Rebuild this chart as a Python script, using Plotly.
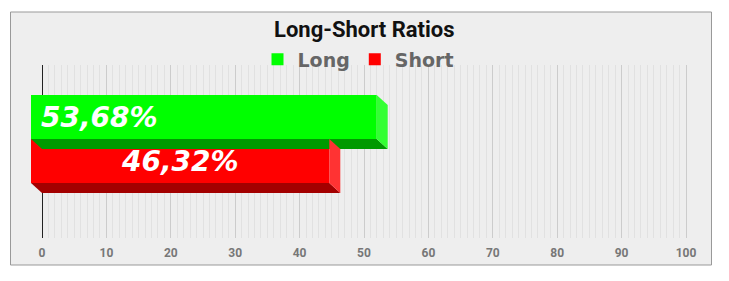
import plotly.graph_objects as go

# ---- data ----
series_names = ["Long", "Short"]
series_values = [53.68, 46.32]
value_labels = ["53,68%", "46,32%"]
front_colors = ["#00ff00", "#ff0000"]
side_colors = ["#33ff33", "#ff3333"]
bottom_colors = ["#009a00", "#a30000"]
tick_values = [0, 10, 20, 30, 40, 50, 60, 70, 80, 90, 100]

# ---- layout geometry (pixels) ----
W, H = 729, 281
X0_PX, X100_PX = 42, 686          # axis value 0 and 100
GRID_TOP, GRID_BOT = 65, 238
CAT_PX = 44                        # bar thickness
SHORT_CENTER_PX = 171              # back-face centre of the lower bar
DEPTH_X_PX, DEPTH_Y_PX = 11, 10
EDGE_PAD_PX = 1.5                  # keeps the last grid line inside the plot
LEGEND_SHIFT_PX = -6

scale = (X100_PX - X0_PX) / 100.0
dx = DEPTH_X_PX / scale
dy = DEPTH_Y_PX / CAT_PX
positions = [1, 0]  # Long above Short

fig = go.Figure()

# invisible trace so the grid axes get drawn
fig.add_trace(go.Scatter(x=[tick_values[0], tick_values[-1]], y=[0.5, 0.5], mode="markers",
                         marker=dict(opacity=0, size=1), xaxis="x", yaxis="y",
                         showlegend=False, hoverinfo="skip"))

for name, v, lab, fc, sc, bc, pos in zip(series_names, series_values, value_labels,
                                          front_colors, side_colors, bottom_colors, positions):
    top, bot = pos + 0.5, pos - 0.5
    # bottom face
    fig.add_trace(go.Scatter(
        x=[-dx, v - dx, v, 0, -dx], y=[bot + dy, bot + dy, bot, bot, bot + dy],
        fill="toself", fillcolor=bc, mode="lines", line=dict(width=0),
        xaxis="x2", yaxis="y2", showlegend=False, hoverinfo="skip"))
    # side face
    fig.add_trace(go.Scatter(
        x=[v - dx, v, v, v - dx, v - dx], y=[top + dy, top, bot, bot + dy, top + dy],
        fill="toself", fillcolor=sc, mode="lines", line=dict(width=0),
        xaxis="x2", yaxis="y2", showlegend=False, hoverinfo="skip"))
    # front face
    fig.add_trace(go.Bar(
        name=name, orientation="h", x=[v], y=[pos + dy], base=[-dx], width=[1.0],
        marker=dict(color=fc, line=dict(width=0)),
        xaxis="x2", yaxis="y2", showlegend=True))

label_font = dict(family="DejaVu Sans", size=28, color="white", weight="bold", style="italic")
# value labels
fig.add_annotation(x=-dx, y=positions[0] + dy, xref="x2", yref="y2", text=value_labels[0],
                   showarrow=False, xanchor="left", xshift=8, font=label_font)
fig.add_annotation(x=series_values[1] / 2 - dx, y=positions[1] + dy, xref="x2", yref="y2",
                   text=value_labels[1], showarrow=False, xanchor="center", font=label_font)

# title
fig.add_annotation(x=0.5, y=1 - 29.5 / H, xref="paper", yref="paper", text="Long-Short Ratios",
                   showarrow=False, xanchor="center", yanchor="middle",
                   font=dict(family="Roboto", size=22, color="#111", weight="bold"))

# panel background
fig.add_shape(type="rect", xref="paper", yref="paper",
              x0=10.5 / W, x1=711.5 / W, y0=1 - 265 / H, y1=1 - 12 / H,
              fillcolor="#eeeeee", line=dict(color="#999999", width=1), layer="below")

fig.update_layout(
    template="none",
    width=W, height=H,
    margin=dict(l=0, r=0, t=0, b=0, pad=0, autoexpand=False),
    paper_bgcolor="white", plot_bgcolor="rgba(0,0,0,0)",
    barmode="overlay",
    xaxis=dict(domain=[X0_PX / W, (X100_PX + EDGE_PAD_PX) / W],
               range=[0, 100 + EDGE_PAD_PX / scale], anchor="y", automargin=False,
               tickvals=tick_values, showgrid=True, gridcolor="#cccccc", gridwidth=1,
               minor=dict(dtick=1, showgrid=True, gridcolor="#e1e1e1", gridwidth=1),
               zeroline=True, zerolinecolor="#222222", zerolinewidth=1,
               showline=False, ticks="outside", ticklen=4, tickcolor="rgba(0,0,0,0)",
               tickfont=dict(family="Roboto", size=12, color="#777777", weight="bold"),
               fixedrange=True),
    yaxis=dict(domain=[1 - GRID_BOT / H, 1 - GRID_TOP / H], range=[0, 1], anchor="x",
               automargin=False,
               visible=False, showgrid=False, zeroline=False, fixedrange=True),
    xaxis2=dict(domain=[0, 1], range=[-X0_PX / scale, (W - X0_PX) / scale], anchor="y2",
                automargin=False,
                visible=False, showgrid=False, zeroline=False, fixedrange=True),
    yaxis2=dict(domain=[0, 1],
                range=[-(H - SHORT_CENTER_PX) / CAT_PX, SHORT_CENTER_PX / CAT_PX],
                anchor="x2", automargin=False,
                visible=False, showgrid=False, zeroline=False, fixedrange=True),
    legend=dict(orientation="h", x=0.5 + LEGEND_SHIFT_PX / W, xanchor="center",
                y=1 - 59.5 / H, yanchor="middle",
                bgcolor="rgba(0,0,0,0)", traceorder="normal", borderwidth=0,
                font=dict(family="DejaVu Sans", size=19, color="#666666", weight="bold")),
    showlegend=True,
)

fig.write_html("out.html")
